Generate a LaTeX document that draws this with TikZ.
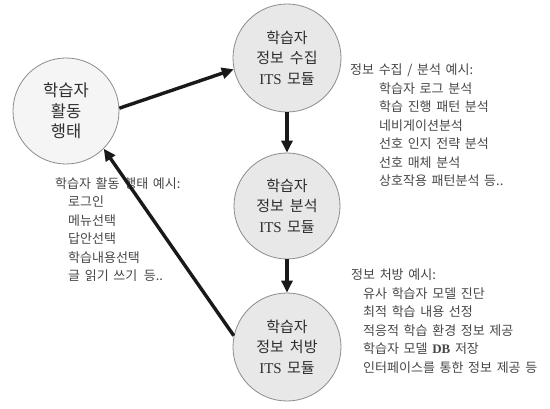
\documentclass[tikz,border=0pt]{standalone}
\usepackage{fontspec}
\newfontfamily\kr[WordSpace=1.6]{Noto Sans CJK KR}
\newfontfamily\tms{Liberation Serif}
\usetikzlibrary{arrows.meta}

\begin{document}
\begin{tikzpicture}[x=1pt,y=-1pt,
  module/.style={circle, draw=black!45, line width=0.8pt, fill=black!9,
    minimum size=108pt, inner sep=0pt, align=center, text=black!82,
    font=\kr\fontsize{15}{20.5}\selectfont},
  flow/.style={draw=black!90, line width=3.4pt,
    -{Triangle[length=12pt,width=11pt]}},
  notes/.style={anchor=north west, align=left, inner sep=0pt,
    text=black!72, font=\kr\fontsize{13}{18.5}\selectfont}]

\useasboundingbox[fill=white] (0,0) rectangle (550,409);

% the four modules of the cycle
\node[module, fill=black!4, minimum size=106pt,
      font=\kr\fontsize{16.5}{20.5}\selectfont] (act) at (66,111)
  {학습자\\활동\\행태};
\node[module] (col) at (287,58) {학습자\\정보\hspace{0.4em}수집\\{\tms ITS} 모듈};
\node[module, minimum size=106pt] (ana) at (287,206) {학습자\\정보\hspace{0.4em}분석\\{\tms ITS} 모듈};
\node[module] (pre) at (287,347) {학습자\\정보\hspace{0.4em}처방\\{\tms ITS} 모듈};

% example lists beside each stage
\node[notes] (colnote) at (350,64) {정보 수집 / 분석 예시:\\
  \hspace*{29pt}학습자 로그 분석\\
  \hspace*{29pt}학습 진행 패턴 분석\\
  \hspace*{29pt}네비게이션분석\\
  \hspace*{29pt}선호 인지 전략 분석\\
  \hspace*{29pt}선호 매체 분석\\
  \hspace*{29pt}상호작용 패턴분석 등..};

\node[notes] (actnote) at (55,177) {학습자 활동 행태 예시:\\
  \hspace*{13pt}로그인\\
  \hspace*{13pt}메뉴선택\\
  \hspace*{13pt}답안선택\\
  \hspace*{13pt}학습내용선택\\
  \hspace*{13pt}글 읽기 쓰기\hspace{0.5em}등..};

\node[notes] (prenote) at (351,269) {정보 처방 예시:\\
  \hspace*{12pt}유사 학습자 모델 진단\\
  \hspace*{12pt}최적 학습 내용 선정\\
  \hspace*{12pt}적응적 학습 환경 정보 제공\\
  \hspace*{12pt}학습자 모델 {\tms\bfseries DB} 저장\\
  \hspace*{12pt}인터페이스를 통한 정보 제공 등};

% cycle arrows
\draw[flow] (act.3) -- (col.192);
\draw[flow] (col.south) -- (ana.north);
\draw[flow] (ana.south) -- (pre.north);
\draw[flow] (pre.168) -- (act.315);
\end{tikzpicture}
\end{document}
